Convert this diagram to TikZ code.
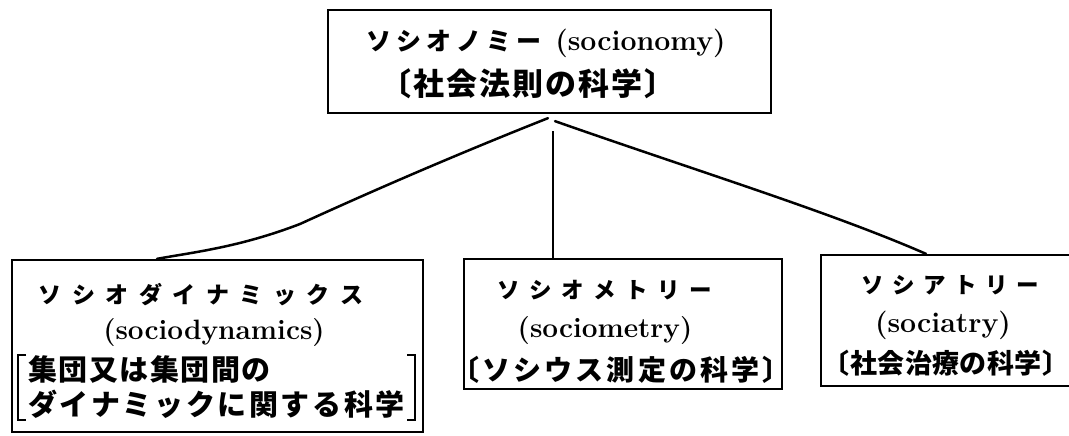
\documentclass[tikz,border=0pt]{standalone}
\usepackage{fontspec}
\newfontfamily\jp{Noto Sans CJK JP}
\makeatletter
\newcommand\kspc[2]{\def\kspc@sep{#1}\kspc@aux#2\relax}
\def\kspc@aux#1{\ifx#1\relax\unskip\else#1\hskip\kspc@sep\expandafter\kspc@aux\fi}
\makeatother
\newcommand\jkata[2][22.5pt]{{\jp\bfseries\fontsize{#1}{#1}\selectfont #2}}
\newcommand\jkanji[2][29pt]{{\jp\bfseries\fontsize{#1}{#1}\selectfont #2}}
\newcommand\ltxt[2][28pt]{{\bfseries\fontsize{#1}{#1}\selectfont #2}}
\tikzset{
  box/.style={draw=black, line width=2.3pt, rectangle, inner sep=0pt},
  conn/.style={draw=black, line width=2.5pt, line cap=round},
  vline/.style={draw=black, line width=1.7pt},
  brk/.style={draw=black, line width=2.6pt},
  lbl/.style={inner sep=0pt, text=black}
}
\begin{document}
\begin{tikzpicture}[x=1pt,y=-1pt]
\useasboundingbox[fill=white] (0,0) rectangle (1069,436);
% boxes
\node[box, minimum width=443pt, minimum height=103pt] (top) at (549.5,61.5) {};
\node[box, minimum width=411pt, minimum height=172pt] (dyn) at (217.5,346) {};
\node[box, minimum width=318pt, minimum height=130pt] (met) at (623,324) {};
\node[box, minimum width=254pt, minimum height=131pt] (atr) at (948,320.5) {};
% top texts
\node[lbl] (t1) at (546,43) {\jkata[25pt]{\kspc{5pt}{ソシオノミー}}\hspace{14pt}\ltxt[28.5pt]{(socionomy)}};
\node[lbl] (t2) at (528,84) {\jkanji[31pt]{\kspc{2pt}{〔社会法則の科学〕}}};
% sociodynamics
\node[lbl] (d1) at (201,295) {\jkata[23pt]{\kspc{10.5pt}{ソシオダイナミックス}}};
\node[lbl] (d2) at (214,333) {\ltxt{(sociodynamics)}};
\node[lbl, anchor=west] (d3) at (28,370) {\jkanji{\kspc{1.5pt}{集団又は集団間の}}};
\node[lbl, anchor=west] (d4) at (28,404) {\jkanji{\kspc{2.6pt}{ダイナミックに関する科学}}};
\draw[brk] (26,355) -- (18,355) -- (18,420) -- (26,420);
\draw[brk] (407,355) -- (415,355) -- (415,420) -- (407,420);
% sociometry
\node[lbl] (m1) at (605,290) {\jkata{\kspc{9.5pt}{ソシオメトリー}}};
\node[lbl] (m2) at (605,331) {\ltxt{(sociometry)}};
\node[lbl] (m3) at (621,370) {\jkanji[28pt]{\kspc{3.1pt}{〔ソシウス測定の科学〕}}};
% sociatry
\node[lbl] (a1) at (950,285) {\jkata{\kspc{8.6pt}{ソシアトリー}}};
\node[lbl] (a2) at (943,325) {\ltxt[28.5pt]{(sociatry)}};
\node[lbl] (a3) at (946,363) {\jkanji[27pt]{\kspc{0.4pt}{〔社会治療の科学〕}}};
% connectors
\draw[conn] ([xshift=-1.5pt,yshift=-4pt]top.south) .. controls (455,155) and (370,192) .. (300,224) .. controls (240,247) and (195,252) .. ([xshift=-60.5pt]dyn.north);
\draw[conn] ([xshift=5.5pt,yshift=-7pt]top.south) .. controls (700,172) and (830,212) .. ([xshift=-22pt]atr.north);
\draw[vline] ([xshift=3.5pt,yshift=-17pt]top.south) -- ([xshift=-70pt]met.north);
\end{tikzpicture}
\end{document}
